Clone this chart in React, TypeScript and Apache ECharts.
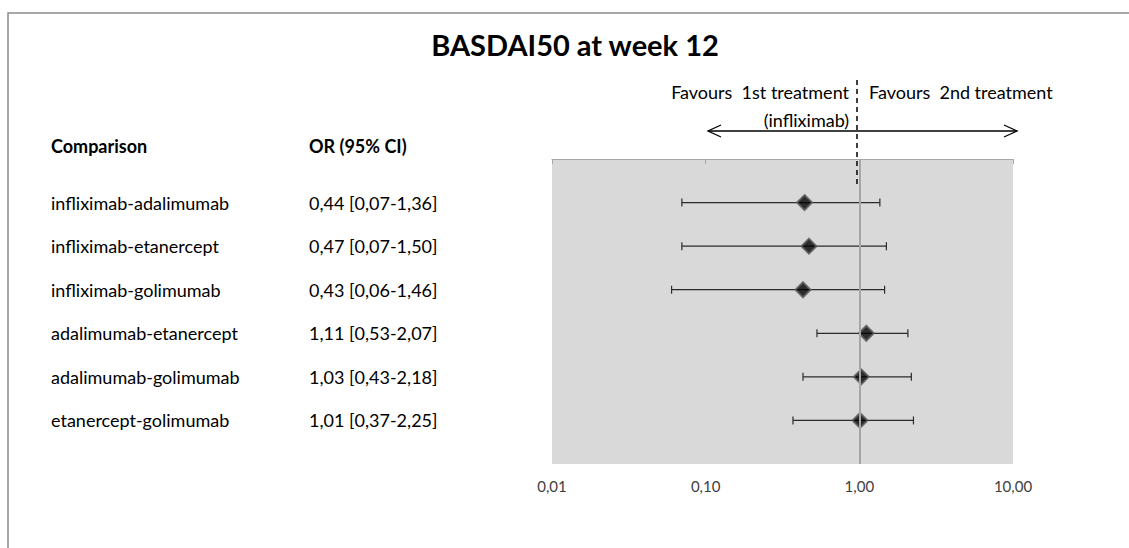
import React, { useEffect, useRef } from "react";
import * as echarts from "echarts";

// Forest plot: odds ratios with 95% confidence intervals
const comparisons = [
  "infliximab-adalimumab",
  "infliximab-etanercept",
  "infliximab-golimumab",
  "adalimumab-etanercept",
  "adalimumab-golimumab",
  "etanercept-golimumab",
];
const oddsRatio = [0.44, 0.47, 0.43, 1.11, 1.03, 1.01];
const ciLower = [0.07, 0.07, 0.06, 0.53, 0.43, 0.37];
const ciUpper = [1.36, 1.5, 1.46, 2.07, 2.18, 2.25];
const xTicks = [0.01, 0.1, 1, 10];

const FONT = "Lato";
const TEXT_SIZE = 18;
const fmt = (v: number) => v.toFixed(2).replace(".", ",");

export default function App() {
  const ref = useRef<HTMLDivElement>(null);

  useEffect(() => {
    if (!ref.current) return;
    const chart = echarts.init(ref.current, undefined, { renderer: "svg" });

    // row position 1..6 from top on a 0..7 inverted value axis
    const rows = comparisons.map((name, i) => [
      i + 1,
      oddsRatio[i],
      ciLower[i],
      ciUpper[i],
      name,
      `${fmt(oddsRatio[i])} [${fmt(ciLower[i])}-${fmt(ciUpper[i])}]`,
    ]);

    const textStyle = (text: string, extra: any = {}) => ({
      text,
      fill: "#000",
      font: `${TEXT_SIZE}px ${FONT}`,
      verticalAlign: "middle",
      ...extra,
    });

    chart.setOption({
      animation: false,
      textStyle: { fontFamily: FONT },
      grid: {
        left: 552,
        right: 116,
        top: 159,
        bottom: 84,
        show: true,
        backgroundColor: "#d9d9d9",
        borderWidth: 0,
      },
      xAxis: {
        type: "log",
        logBase: 10,
        min: xTicks[0],
        max: xTicks[xTicks.length - 1],
        axisLine: { show: true, lineStyle: { color: "#a6a6a6", width: 1 } },
        axisTick: { show: true, length: 5, lineStyle: { color: "#a6a6a6" } },
        minorTick: { show: false },
        splitLine: { show: false },
        axisLabel: {
          margin: 14,
          fontSize: 15,
          color: "#404040",
          fontFamily: FONT,
          formatter: (v: number) => fmt(v),
        },
      },
      yAxis: {
        type: "value",
        min: 0,
        max: 7,
        inverse: true,
        show: false,
      },
      series: [
        {
          type: "custom",
          clip: false,
          encode: { x: [1, 2, 3], y: 0 },
          data: rows,
          renderItem: (params: any, api: any) => {
            const y = api.value(0);
            const lo = api.coord([api.value(2), y]);
            const hi = api.coord([api.value(3), y]);
            const cap = 4;
            const lineStyle = { stroke: "#2b2b2b", lineWidth: 1.2 };
            return {
              type: "group",
              children: [
                { type: "line", shape: { x1: lo[0], y1: lo[1], x2: hi[0], y2: hi[1] }, style: lineStyle },
                { type: "line", shape: { x1: lo[0], y1: lo[1] - cap, x2: lo[0], y2: lo[1] + cap }, style: lineStyle },
                { type: "line", shape: { x1: hi[0], y1: hi[1] - cap, x2: hi[0], y2: hi[1] + cap }, style: lineStyle },
                { type: "text", x: 51, y: lo[1], style: textStyle(rows[params.dataIndex][4] as string) },
                { type: "text", x: 309, y: lo[1], style: textStyle(rows[params.dataIndex][5] as string) },
              ],
            };
          },
          markLine: {
            silent: true,
            symbol: "none",
            label: { show: false },
            lineStyle: { color: "#a6a6a6", width: 2, type: "solid" },
            data: [{ xAxis: 1 }],
          },
          z: 2,
        },
        {
          type: "scatter",
          symbol: "diamond",
          symbolSize: 15,
          data: rows.map((r) => [r[1], r[0]]),
          encode: { x: 0, y: 1 },
          itemStyle: { color: "#000", borderColor: "#5a5a5a", borderWidth: 2 },
          z: 3,
        },
      ],
      graphic: [
        {
          type: "rect",
          shape: { x: 8, y: 13, width: 1200, height: 600 },
          style: { fill: "none", stroke: "#8c8c8c", lineWidth: 1.5 },
          silent: true,
        },
        {
          type: "text",
          x: 575,
          y: 44,
          style: {
            text: "BASDAI50 at week 12",
            font: `bold 29px ${FONT}`,
            fill: "#000",
            align: "center",
            verticalAlign: "middle",
          },
        },
        { type: "text", x: 51, y: 146, style: textStyle("Comparison", { font: `bold ${TEXT_SIZE}px ${FONT}` }) },
        { type: "text", x: 309, y: 146, style: textStyle("OR (95% CI)", { font: `bold ${TEXT_SIZE}px ${FONT}` }) },
        { type: "text", x: 849, y: 92, style: textStyle("Favours  1st treatment", { align: "right" }) },
        { type: "text", x: 849, y: 120, style: textStyle("(infliximab)", { align: "right" }) },
        { type: "text", x: 869, y: 92, style: textStyle("Favours  2nd treatment", { align: "left" }) },
        {
          type: "line",
          shape: { x1: 857, y1: 80, x2: 857, y2: 184 },
          style: { stroke: "#000", lineWidth: 1.5, lineDash: [5, 4] },
          z: 10,
        },
        {
          type: "line",
          shape: { x1: 708, y1: 131, x2: 1017, y2: 131 },
          style: { stroke: "#000", lineWidth: 1.3 },
        },
        {
          type: "polyline",
          shape: { points: [[721, 125], [708, 131], [721, 137]] },
          style: { stroke: "#000", lineWidth: 1.3, fill: "none" },
        },
        {
          type: "polyline",
          shape: { points: [[1004, 125], [1017, 131], [1004, 137]] },
          style: { stroke: "#000", lineWidth: 1.3, fill: "none" },
        },
      ],
    });

    return () => chart.dispose();
  }, []);

  return (
    <div
      ref={ref}
      style={{ position: "absolute", left: 0, top: 0, width: 1129, height: 548, background: "#fff" }}
    />
  );
}
